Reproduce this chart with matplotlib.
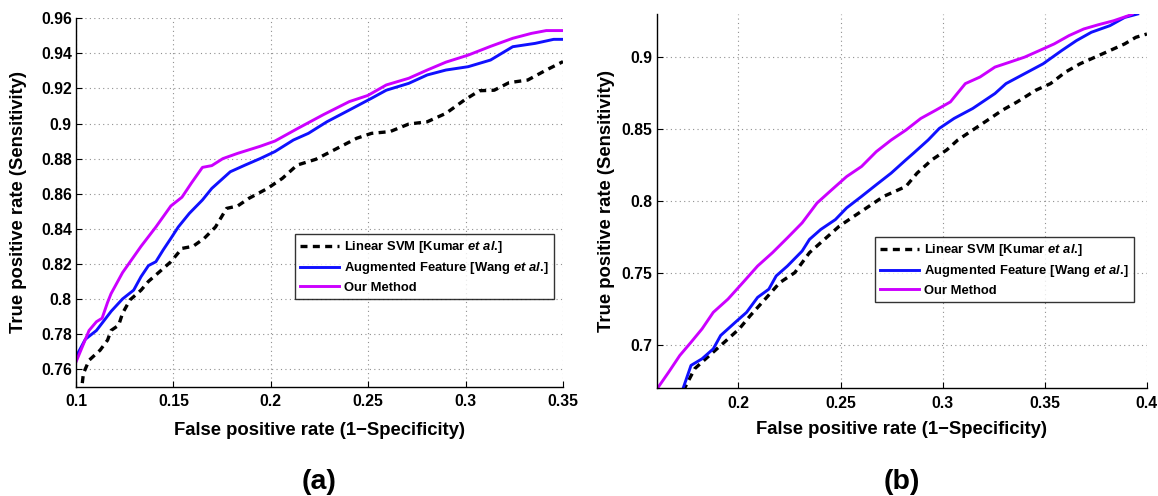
import matplotlib.pyplot as plt
from matplotlib.ticker import FuncFormatter

plt.rcParams['font.family'] = ['Liberation Sans', 'DejaVu Sans']
plt.rcParams['font.weight'] = 'bold'
plt.rcParams['mathtext.fontset'] = 'custom'
plt.rcParams['mathtext.rm'] = 'Liberation Sans:bold'
plt.rcParams['mathtext.it'] = 'Liberation Sans:italic:bold'

labels = ['Linear SVM [Kumar $\\mathit{et\\ al.\\!]}$',
          'Augmented Feature [Wang $\\mathit{et\\ al.\\!]}$',
          'Our Method']

# ---- panel (a) ----
fpr_a_svm = [0.1025, 0.1038, 0.1067, 0.1124, 0.1162, 0.118, 0.1219, 0.1239, 0.1277, 0.1334,
             0.1372, 0.1429, 0.1487, 0.1544, 0.1601, 0.1658, 0.1716, 0.1773, 0.183, 0.1887,
             0.1983, 0.2059, 0.2135, 0.2231, 0.2326, 0.2441, 0.2517, 0.2612, 0.2708, 0.2803,
             0.2899, 0.2994, 0.3071, 0.3147, 0.3223, 0.3319, 0.3414, 0.35]
tpr_a_svm = [0.745, 0.7575, 0.765, 0.7708, 0.7765, 0.782, 0.785, 0.7918, 0.7994, 0.805,
             0.810, 0.8155, 0.8212, 0.8288, 0.830, 0.8345, 0.841, 0.8516, 0.853, 0.8573,
             0.863, 0.8687, 0.8763, 0.8796, 0.885, 0.8916, 0.8944, 0.8954, 0.8997, 0.901,
             0.9058, 0.9134, 0.9187, 0.919, 0.9233, 0.9248, 0.9305, 0.9353]

fpr_a_aug = [0.1, 0.1048, 0.1105, 0.1181, 0.1239, 0.1296, 0.1334, 0.1372, 0.141, 0.1448,
             0.1487, 0.1525, 0.1582, 0.1649, 0.1697, 0.1792, 0.1868, 0.1945, 0.2021, 0.2116,
             0.2193, 0.2288, 0.2403, 0.2517, 0.2593, 0.2708, 0.2803, 0.2899, 0.3013, 0.3128,
             0.3242, 0.3357, 0.3452, 0.35]
tpr_a_aug = [0.767, 0.777, 0.782, 0.793, 0.800, 0.805, 0.8127, 0.819, 0.8212, 0.828,
             0.8345, 0.841, 0.8488, 0.8564, 0.863, 0.8725, 0.8763, 0.880, 0.884, 0.8906,
             0.8944, 0.901, 0.9077, 0.9144, 0.919, 0.9229, 0.9277, 0.9305, 0.9324, 0.9362,
             0.9438, 0.9457, 0.948, 0.948]

fpr_a_ours = [0.1, 0.1067, 0.1105, 0.1134, 0.1162, 0.118, 0.1239, 0.1334, 0.141, 0.1487,
              0.1544, 0.1592, 0.1649, 0.1697, 0.1754, 0.183, 0.1945, 0.2021, 0.2135, 0.2269,
              0.2403, 0.2498, 0.2593, 0.2708, 0.2803, 0.2899, 0.3013, 0.3128, 0.3242, 0.3338,
              0.3414, 0.35]
tpr_a_ours = [0.764, 0.782, 0.787, 0.789, 0.798, 0.803, 0.815, 0.830, 0.841, 0.853,
              0.858, 0.866, 0.875, 0.876, 0.880, 0.883, 0.887, 0.890, 0.897, 0.905,
              0.9125, 0.916, 0.922, 0.9258, 0.9305, 0.935, 0.939, 0.944, 0.9486, 0.9514,
              0.953, 0.953]

# ---- panel (b) ----
fpr_b_svm = [0.173, 0.1786, 0.1858, 0.1931, 0.2004, 0.2058, 0.2131, 0.2203, 0.2276, 0.2348,
             0.2421, 0.2494, 0.2566, 0.2639, 0.2711, 0.2784, 0.282, 0.2875, 0.2947, 0.302,
             0.3074, 0.3147, 0.322, 0.3292, 0.3365, 0.3456, 0.3528, 0.3601, 0.3673, 0.3746,
             0.3819, 0.3891, 0.3946, 0.4]
tpr_b_svm = [0.668, 0.6834, 0.6926, 0.7018, 0.7111, 0.7203, 0.7318, 0.7433, 0.7502, 0.7641,
             0.7733, 0.7825, 0.7894, 0.7963, 0.8032, 0.8078, 0.8101, 0.8194, 0.8286, 0.8355,
             0.8424, 0.8493, 0.8562, 0.8631, 0.8689, 0.877, 0.8816, 0.8896, 0.8954, 0.9,
             0.9046, 0.9092, 0.9138, 0.9161]

fpr_b_aug = [0.1725, 0.1768, 0.1822, 0.1877, 0.1913, 0.1985, 0.204, 0.2094, 0.2149, 0.2185,
             0.224, 0.2312, 0.2348, 0.2403, 0.2475, 0.253, 0.2603, 0.2675, 0.2748, 0.282,
             0.2857, 0.2929, 0.2984, 0.3056, 0.3147, 0.3256, 0.331, 0.3401, 0.3492, 0.3583,
             0.3655, 0.3728, 0.3819, 0.3891, 0.3955]
tpr_b_aug = [0.668, 0.6857, 0.6903, 0.6972, 0.7065, 0.7157, 0.7226, 0.733, 0.7387, 0.7479,
             0.7548, 0.7652, 0.7733, 0.7802, 0.7871, 0.7952, 0.8032, 0.8113, 0.8194, 0.8286,
             0.8332, 0.8424, 0.8505, 0.8574, 0.8643, 0.8747, 0.8816, 0.8885, 0.8954, 0.9046,
             0.9115, 0.9173, 0.9219, 0.9276, 0.93]

fpr_b_ours = [0.1595, 0.1659, 0.1713, 0.1768, 0.1822, 0.1877, 0.1949, 0.2022, 0.2094, 0.2167,
              0.224, 0.2312, 0.2385, 0.2457, 0.253, 0.2603, 0.2675, 0.2748, 0.282, 0.2893,
              0.2966, 0.3038, 0.3111, 0.3183, 0.3256, 0.3328, 0.3401, 0.3474, 0.3546, 0.3619,
              0.3691, 0.3764, 0.3837, 0.3909, 0.3927]
tpr_b_ours = [0.668, 0.6811, 0.6926, 0.7018, 0.7111, 0.7226, 0.7318, 0.7433, 0.7548, 0.7641,
              0.7744, 0.7848, 0.7986, 0.8078, 0.817, 0.824, 0.8343, 0.8424, 0.8493, 0.8574,
              0.8631, 0.8689, 0.8816, 0.8862, 0.8931, 0.8965, 0.9, 0.9046, 0.9092, 0.915,
              0.9196, 0.9226, 0.9253, 0.9288, 0.93]

xticks_a = [0.1, 0.15, 0.2, 0.25, 0.3, 0.35]
yticks_a = [0.76, 0.78, 0.8, 0.82, 0.84, 0.86, 0.88, 0.9, 0.92, 0.94, 0.96]
xticks_b = [0.2, 0.25, 0.3, 0.35, 0.4]
yticks_b = [0.7, 0.75, 0.8, 0.85, 0.9]

fig = plt.figure(figsize=(11.58, 4.96), dpi=100)
ax1 = fig.add_axes([76 / 1158, 109.4 / 496, 487 / 1158, 368.3 / 496])
ax2 = fig.add_axes([656.7 / 1158, 108 / 496, 490.2 / 1158, 374 / 496])

gfmt = FuncFormatter(lambda v, p: ('%g' % round(v, 4)))


def style(ax, xt, yt, xlim, ylim, tag, leg_anchor, ylab_x, xlab_y, tag_y):
    ax.plot(*xt[0], color='black', lw=2.4, dashes=(2.1, 1.6), label=labels[0])
    ax.plot(*xt[1], color='#1010ff', lw=2.1, label=labels[1])
    ax.plot(*xt[2], color='#cc00ff', lw=2.1, label=labels[2])
    ax.set_xlim(*xlim)
    ax.set_ylim(*ylim)
    ax.set_xticks(yt[0])
    ax.set_yticks(yt[1])
    ax.xaxis.set_major_formatter(gfmt)
    ax.yaxis.set_major_formatter(gfmt)
    ax.tick_params(direction='in', length=4, width=0.8, labelsize=11.3)
    ax.tick_params(axis='x', pad=5.5)
    ax.tick_params(axis='y', pad=3)
    for s in ['top', 'right']:
        ax.spines[s].set_visible(False)
    for s in ['left', 'bottom']:
        ax.spines[s].set_linewidth(1.0)
    ax.grid(True, color='#909090', lw=0.8, linestyle=(0, (1, 3)))
    ax.set_axisbelow(True)
    ax.set_xlabel('False positive rate (1\u2212Specificity)', fontsize=13.3,
                  fontweight='bold', va='center')
    ax.set_ylabel('True positive rate (Sensitivity)', fontsize=13.3,
                  fontweight='bold', va='center')
    ax.xaxis.set_label_coords(0.5, xlab_y)
    ax.yaxis.set_label_coords(ylab_x, 0.5)
    ax.text(0.5, tag_y, tag, transform=ax.transAxes, ha='center', va='center',
            fontsize=20.5, fontweight='bold')
    leg = ax.legend(loc='upper right', bbox_to_anchor=leg_anchor, fontsize=9.4,
                    frameon=True, fancybox=False, handlelength=3.0, handletextpad=0.35,
                    borderpad=0.4, labelspacing=0.4, borderaxespad=0)
    leg.get_frame().set_edgecolor('black')
    leg.get_frame().set_linewidth(1.0)
    for t in leg.get_texts():
        t.set_fontweight('bold')


style(ax1,
      [(fpr_a_svm, tpr_a_svm), (fpr_a_aug, tpr_a_aug), (fpr_a_ours, tpr_a_ours)],
      (xticks_a, yticks_a), (0.1, 0.35), (0.75, 0.96), '(a)', (0.9815, 0.4143),
      -0.118, -0.118, -0.259)
style(ax2,
      [(fpr_b_svm, tpr_b_svm), (fpr_b_aug, tpr_b_aug), (fpr_b_ours, tpr_b_ours)],
      (xticks_b, yticks_b), (0.16, 0.4), (0.67, 0.93), '(b)', (0.9737, 0.4037),
      -0.1034, -0.112, -0.251)

fig.savefig('out.png', dpi=100)
